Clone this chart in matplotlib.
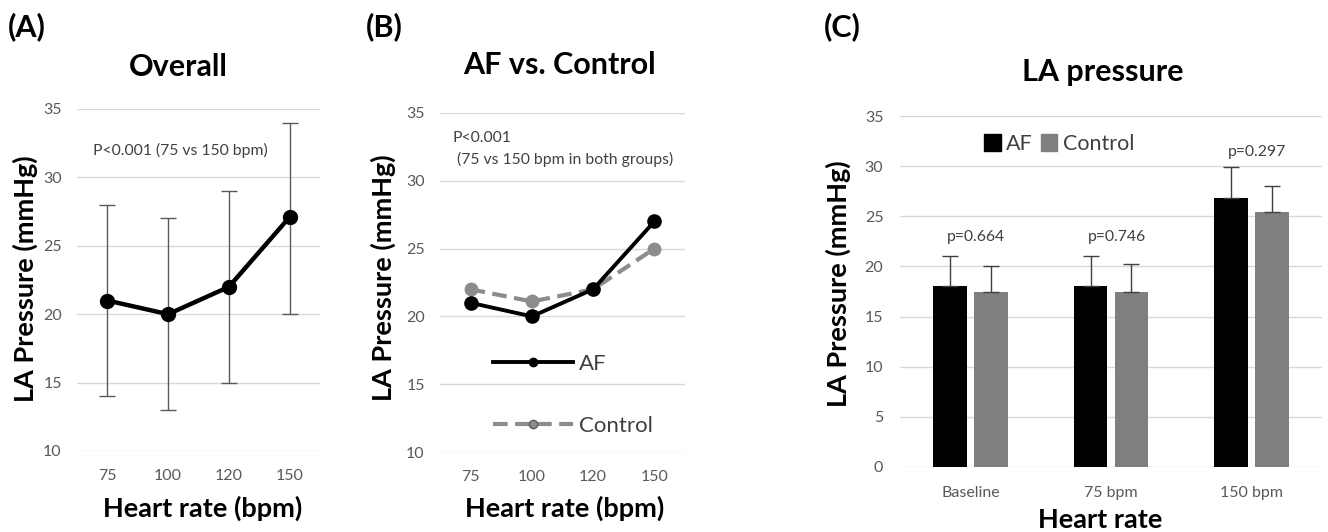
import matplotlib
matplotlib.use("Agg")
import matplotlib.pyplot as plt
import numpy as np
from matplotlib.lines import Line2D
from matplotlib.patches import Patch

plt.rcParams['font.family'] = ['Lato', 'DejaVu Sans']

# ---- data ----
hr_labels = ["75", "100", "120", "150"]
overall_mean = [21, 20, 22, 27.1]
overall_upper = [28, 27, 29, 34]
overall_lower = [14, 13, 15, 20]

af_mean = [21, 20, 22, 27.0]
control_mean = [22, 21.1, 22, 25]

bar_cats = ["Baseline", "75 bpm", "150 bpm"]
bar_af = [18, 18, 26.8]
bar_af_err = [3.0, 3.0, 3.1]
bar_ctrl = [17.5, 17.5, 25.4]
bar_ctrl_err = [2.5, 2.7, 2.6]
p_values = ["p=0.664", "p=0.746", "p=0.297"]

W, H = 1328, 532
fig = plt.figure(figsize=(W / 100, H / 100), dpi=100)

def px_axes(x0, x1, ytop, ybot):
    return fig.add_axes([x0 / W, (H - ybot) / H, (x1 - x0) / W, (ybot - ytop) / H])

def ftext(xp, yp, s, **kw):
    return fig.text(xp / W, 1 - yp / H, s, **kw)

grid_c = '#d9d9d9'
tick_c = '#595959'
label_fs = 19.5
title_fs = 22
panel_fs = 22

def style(ax, xpad):
    for s in ax.spines.values():
        s.set_visible(False)
    ax.tick_params(length=0, labelsize=11.5, colors=tick_c)
    ax.tick_params(axis='y', pad=11)
    ax.tick_params(axis='x', pad=xpad)
    ax.yaxis.grid(True, color=grid_c, lw=1.0)
    ax.set_axisbelow(True)

# ---- Panel A ----
axA = px_axes(77, 320, 109, 451)
x = np.arange(len(hr_labels))
yerr = [np.array(overall_mean) - np.array(overall_lower),
        np.array(overall_upper) - np.array(overall_mean)]
axA.errorbar(x, overall_mean, yerr=yerr, fmt='none', ecolor='#595959',
             elinewidth=1.0, capsize=6, capthick=1.0, zorder=2)
axA.plot(x, overall_mean, color='black', lw=3.2, marker='o', ms=10, zorder=3)
axA.set_xlim(-0.5, 3.5)
axA.set_ylim(10, 35)
axA.set_yticks(range(10, 36, 5))
axA.set_xticks(x)
axA.set_xticklabels(hr_labels)
style(axA, 13)
axA.text(0.065, 0.88, "P<0.001 (75 vs 150 bpm)", transform=axA.transAxes,
         fontsize=11.3, color='#404040', va='center')
ftext(25, 279, "LA Pressure (mmHg)", fontsize=label_fs, fontweight='bold',
      rotation=90, ha='center', va='center')
ftext(203, 508, "Heart rate (bpm)", fontsize=label_fs, fontweight='bold',
      ha='center', va='center')
ftext(178, 67, "Overall", fontsize=title_fs, fontweight='bold', ha='center', va='center')
ftext(8, 27, "(A)", fontsize=panel_fs, fontweight='bold', va='center')

# ---- Panel B ----
axB = px_axes(440, 685, 113, 452)
dash = (0, (3.5, 1.8))
axB.plot(x, control_mean, color='#8c8c8c', lw=3, ls=dash, marker='o',
         ms=9, mfc='#8c8c8c', mec='#8c8c8c', zorder=2, label="Control")
axB.plot(x, af_mean, color='black', lw=2.8, marker='o', ms=9.5, zorder=3, label="AF")
axB.set_xlim(-0.5, 3.5)
axB.set_ylim(10, 35)
axB.set_yticks(range(10, 36, 5))
axB.set_xticks(x)
axB.set_xticklabels(hr_labels)
style(axB, 13)
axB.text(0.05, 0.925, "P<0.001", transform=axB.transAxes,
         fontsize=11.3, color='#404040', va='center')
axB.text(0.07, 0.862, "(75 vs 150 bpm in both groups)", transform=axB.transAxes,
         fontsize=11.3, color='#404040', va='center')
h_af = Line2D([], [], color='black', lw=2.8, marker='o', ms=6)
h_ct = Line2D([], [], color='#8c8c8c', lw=3, ls=dash, marker='o', ms=6,
              mfc='#8c8c8c', mec='#5f5f5f')
legB = axB.legend([h_af, h_ct], ["AF", "Control"], loc='upper left',
                  bbox_to_anchor=(0.215, 0.29), frameon=False, fontsize=16,
                  handlelength=3.6, labelspacing=1.9, handletextpad=0.3,
                  borderpad=0, borderaxespad=0)
for t in legB.get_texts():
    t.set_color('#404040')
ftext(383, 278, "LA Pressure (mmHg)", fontsize=label_fs, fontweight='bold',
      rotation=90, ha='center', va='center')
ftext(565, 508, "Heart rate (bpm)", fontsize=label_fs, fontweight='bold',
      ha='center', va='center')
ftext(559, 65, "AF vs. Control", fontsize=title_fs, fontweight='bold', ha='center', va='center')
ftext(366, 27, "(B)", fontsize=panel_fs, fontweight='bold', va='center')

# ---- Panel C ----
axC = px_axes(900, 1322, 116, 467)
xc = np.arange(len(bar_cats))
bw = 0.24
off = 0.145
ekw = dict(ecolor='#404040', elinewidth=1.0, capsize=6, capthick=1.0)
axC.bar(xc - off, bar_af, bw, color='black', zorder=2,
        yerr=[np.zeros(3), bar_af_err], error_kw=ekw)
axC.bar(xc + off, bar_ctrl, bw, color='#7f7f7f', zorder=2,
        yerr=[np.zeros(3), bar_ctrl_err], error_kw=ekw)
axC.set_xlim(-0.5, 2.5)
axC.set_ylim(0, 35)
axC.set_yticks(range(0, 36, 5))
axC.set_xticks(xc)
axC.set_xticklabels(bar_cats)
style(axC, 14)
axC.tick_params(axis='y', pad=12)
axC.tick_params(axis='x', labelsize=11.5)
p_y = [22.9, 22.9, 31.4]
for i, (p, yy) in enumerate(zip(p_values, p_y)):
    axC.text(xc[i] + 0.04, yy, p, ha='center', va='center', fontsize=11.3, color='#404040')
legC = axC.legend([Patch(color='black'), Patch(color='#7f7f7f')], ["AF", "Control"],
                  loc='center left', bbox_to_anchor=(0.2, 0.92), ncol=2, frameon=False,
                  fontsize=15.5, handlelength=0.75, handleheight=0.8,
                  handletextpad=0.25, columnspacing=0.4, borderpad=0, borderaxespad=0)
for t in legC.get_texts():
    t.set_color('#404040')
ftext(838, 284, "LA Pressure (mmHg)", fontsize=label_fs, fontweight='bold',
      rotation=90, ha='center', va='center')
ftext(1100, 520, "Heart rate", fontsize=label_fs, fontweight='bold',
      ha='center', va='center')
ftext(1103, 72, "LA pressure", fontsize=title_fs, fontweight='bold', ha='center', va='center')
ftext(824, 27, "(C)", fontsize=panel_fs, fontweight='bold', va='center')

fig.savefig("out.png", dpi=100)
